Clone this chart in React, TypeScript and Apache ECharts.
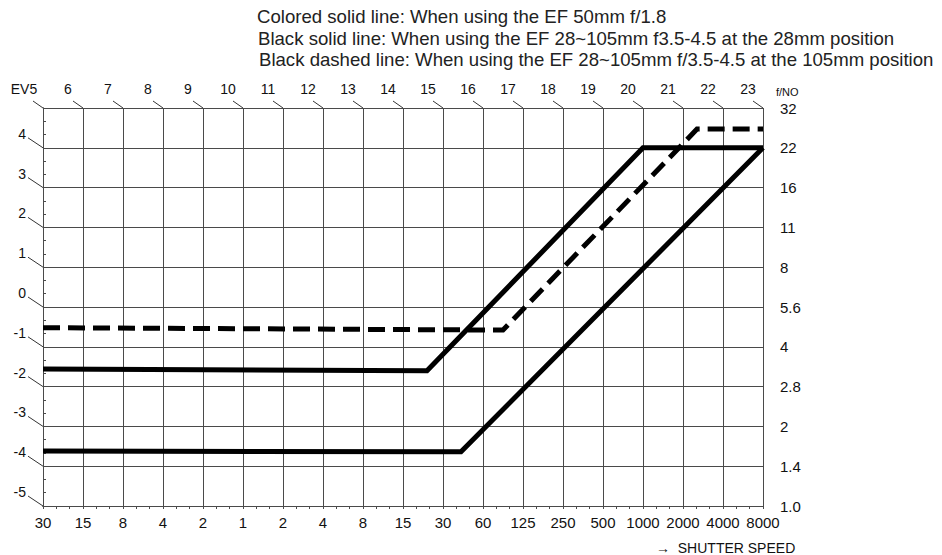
import React, { useEffect, useRef } from 'react';
import * as echarts from 'echarts';

// Bottom axis: shutter speed (seconds on the left, 1/x on the right)
const SHUTTER_LABELS = ['30', '15', '8', '4', '2', '1', '2', '4', '8', '15', '30', '60', '125', '250', '500', '1000', '2000', '4000', '8000'];
// Top axis: EV values
const EV_TOP_LABELS = ['EV5', '6', '7', '8', '9', '10', '11', '12', '13', '14', '15', '16', '17', '18', '19', '20', '21', '22', '23'];
// Left axis: EV values (rows 0..9 from bottom)
const EV_LEFT_LABELS = ['-5', '-4', '-3', '-2', '-1', '0', '1', '2', '3', '4'];
// Right axis: f-numbers (rows 0..10 from bottom)
const FNO_LABELS = ['1.0', '1.4', '2', '2.8', '4', '5.6', '8', '11', '16', '22', '32'];

const LEGEND_LINES = [
  'Colored solid line: When using the EF 50mm f/1.8',
  'Black solid line: When using the EF 28~105mm f3.5-4.5 at the 28mm position',
  'Black dashed line: When using the EF 28~105mm f/3.5-4.5 at the 105mm position',
];

// Program lines: [shutter-speed index, aperture row]
const LENS_50MM = [[0, 1.38], [10.45, 1.36], [18, 9]];
const ZOOM_28MM = [[0, 3.44], [9.6, 3.4], [15, 9], [18, 9]];
const ZOOM_105MM = [[0, 4.48], [11.5, 4.42], [16.35, 9.47], [18, 9.47]];

const FONT = '"Liberation Sans", Arial, Helvetica, sans-serif';
const INK = '#111';
const GRIDC = '#4a4a4a';

export default function App() {
  const ref = useRef<HTMLDivElement>(null);

  useEffect(() => {
    if (!ref.current) return;
    const chart = echarts.init(ref.current, undefined, { renderer: 'svg' });
    const xMax = SHUTTER_LABELS.length - 1;
    const yMax = FNO_LABELS.length - 1;

    const topLeaders = EV_TOP_LABELS.map((_, i) => [i, yMax]);
    const leftLeaders = EV_LEFT_LABELS.map((_, j) => [0, j]);

    const option: any = {
      animation: false,
      backgroundColor: '#fff',
      textStyle: { fontFamily: FONT, color: INK },
      grid: { left: 43, right: 179, top: 108, bottom: 49, containLabel: false },
      xAxis: [
        {
          type: 'value', position: 'bottom', min: 0, max: xMax, interval: 1,
          axisLine: { show: true, lineStyle: { color: GRIDC, width: 1 } },
          axisTick: { show: true, length: 3, lineStyle: { color: GRIDC } },
          minorTick: { show: true, splitNumber: 3, length: 3, lineStyle: { color: GRIDC } },
          splitLine: { show: true, lineStyle: { color: GRIDC, width: 1 } },
          axisLabel: {
            margin: 9, fontSize: 15, color: INK, fontFamily: FONT,
            formatter: (v: number) => SHUTTER_LABELS[v] ?? '',
          },
        },
        {
          type: 'value', position: 'top', min: 0, max: xMax, interval: 1,
          axisLine: { show: true, lineStyle: { color: GRIDC, width: 1 } },
          axisTick: { show: false },
          splitLine: { show: false },
          axisLabel: {
            margin: 12, fontSize: 14, color: INK, fontFamily: FONT,
            formatter: (v: number) => (v === 0 ? `{ev|${EV_TOP_LABELS[0]}}` : `{n|${EV_TOP_LABELS[v] ?? ''}}`),
            rich: {
              n: { fontSize: 14, fontFamily: FONT, color: INK, padding: [0, 30, 0, 0] },
              ev: { fontSize: 14, fontFamily: FONT, color: INK, padding: [0, 38, 0, 0] },
            },
          },
        },
      ],
      yAxis: [
        {
          type: 'value', position: 'left', min: 0, max: yMax, interval: 1,
          axisLine: { show: true, lineStyle: { color: GRIDC, width: 1 } },
          axisTick: { show: false },
          splitLine: { show: true, lineStyle: { color: GRIDC, width: 1 } },
          axisLabel: {
            margin: 17, fontSize: 14, color: INK, fontFamily: FONT, align: 'right',
            formatter: (v: number) => (EV_LEFT_LABELS[v] != null ? `{l|${EV_LEFT_LABELS[v]}}` : ''),
            rich: {
              l: { fontSize: 14, fontFamily: FONT, color: INK, padding: [0, 0, 28, 0] },
            },
          },
        },
        {
          type: 'value', position: 'right', min: 0, max: yMax, interval: 1,
          axisLine: { show: true, lineStyle: { color: GRIDC, width: 1 } },
          axisTick: { show: true, length: 5, lineStyle: { color: GRIDC } },
          minorTick: { show: true, splitNumber: 3, length: 3, lineStyle: { color: GRIDC } },
          splitLine: { show: false },
          axisLabel: {
            margin: 17, fontSize: 15, color: INK, fontFamily: FONT,
            formatter: (v: number) => FNO_LABELS[v] ?? '',
          },
        },
      ],
      series: [
        {
          type: 'custom', name: 'topLeaders', xAxisIndex: 0, yAxisIndex: 0, clip: false, silent: true,
          data: topLeaders,
          renderItem: (_p: any, api: any) => {
            const p = api.coord([api.value(0), api.value(1)]);
            return { type: 'line', shape: { x1: p[0] - 10, y1: p[1] - 7, x2: p[0], y2: p[1] }, style: { stroke: '#333', lineWidth: 1 } };
          },
        },
        {
          type: 'custom', name: 'leftLeaders', xAxisIndex: 0, yAxisIndex: 0, clip: false, silent: true,
          data: leftLeaders,
          renderItem: (_p: any, api: any) => {
            const p = api.coord([api.value(0), api.value(1)]);
            return { type: 'line', shape: { x1: p[0] - 15, y1: p[1] - 10, x2: p[0], y2: p[1] }, style: { stroke: '#333', lineWidth: 1 } };
          },
        },
        {
          type: 'line', name: 'EF 50mm f/1.8', data: LENS_50MM, showSymbol: false, symbol: 'none',
          lineStyle: { color: '#000', width: 5, join: 'miter', cap: 'butt' },
        },
        {
          type: 'line', name: 'EF 28-105mm @28mm', data: ZOOM_28MM, showSymbol: false, symbol: 'none',
          lineStyle: { color: '#000', width: 5, join: 'miter', cap: 'butt' },
        },
        {
          type: 'line', name: 'EF 28-105mm @105mm', data: ZOOM_105MM, showSymbol: false, symbol: 'none',
          lineStyle: { color: '#000', width: 5, type: [17, 8], join: 'miter', cap: 'butt' },
        },
      ],
      graphic: [
        ...LEGEND_LINES.map((t, i) => ({
          type: 'text', left: 257 + i, top: 7 + i * 21.5,
          style: { text: t, fontSize: 18.6, fontFamily: FONT, fill: '#222' },
        })),
        {
          type: 'text', left: 776, top: 86,
          style: { text: 'f/NO', fontSize: 11, fontFamily: FONT, fill: INK },
        },
        {
          type: 'text', left: 656, top: 541,
          style: { text: '\u2192  SHUTTER SPEED', fontSize: 14, fontFamily: FONT, fill: INK },
        },
      ],
    };
    chart.setOption(option);
    return () => chart.dispose();
  }, []);

  return <div ref={ref} style={{ position: 'absolute', left: 0, top: 0, width: 942, height: 555 }} />;
}
